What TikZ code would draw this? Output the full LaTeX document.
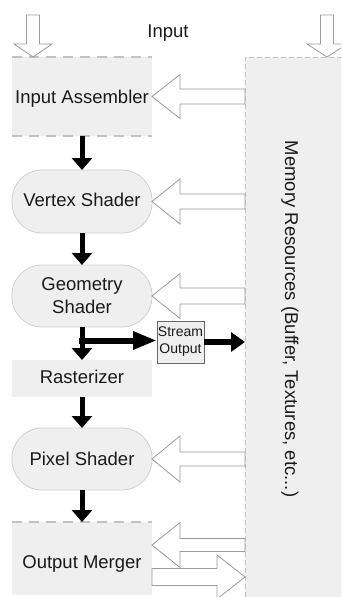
\documentclass[tikz,border=0pt]{standalone}
\usepackage{fontspec}
\setmainfont{Liberation Sans}
\usetikzlibrary{arrows.meta,calc}

\definecolor{boxfill}{HTML}{EFEFEF}
\definecolor{edgegray}{HTML}{D0D0D0}
\definecolor{dashgray}{HTML}{C2C2C2}
\definecolor{hollowgray}{HTML}{9A9A9A}
\definecolor{textcol}{HTML}{1A1A1A}

% outlined block arrow: #1 tail, #2 tip, #3 shaft half width, #4 head half width, #5 head length
\newcommand\hollowarrow[5]{%
  \draw[hollow] let \p1=(#1), \p2=(#2),
      \n1={atan2(\y2-\y1,\x2-\x1)}, \n2={veclen(\x2-\x1,\y2-\y1)} in
    [shift={(\p1)}, rotate=\n1]
    (0pt,#3) -- ({\n2*1pt-#5},#3) -- ({\n2*1pt-#5},#4) -- ({\n2*1pt},0pt)
    -- ({\n2*1pt-#5},-#4) -- ({\n2*1pt-#5},-#3) -- (0pt,-#3) -- cycle;}

\begin{document}
\begin{tikzpicture}[x=1pt,y=-1pt,
  stage/.style={fill=boxfill, minimum width=140pt, inner sep=0pt, outer sep=0pt,
    text=textcol, font=\fontsize{18.5}{23}\selectfont},
  oneline/.style={text height=13.5pt, text depth=4pt},
  pill/.style={stage, draw=edgegray, line width=0.8pt, rounded corners=30pt},
  dashline/.style={draw=dashgray, line width=1.5pt, dash pattern=on 10pt off 7pt},
  hollow/.style={draw=hollowgray, fill=white, line width=0.8pt, line join=miter},
  flow/.style={line width=5pt, draw=black, -{Triangle[width=20pt,length=12pt]}},
  streamflow/.style={line width=6pt, draw=black, -{Triangle[width=17pt,length=24pt]}},
  outflow/.style={line width=6pt, draw=black, -{Triangle[width=19pt,length=14pt]}},
]
\useasboundingbox (0,0) rectangle (341,597);
\clip (0,0) rectangle (341,597);

% memory resources column
\node[fill=boxfill, draw=dashgray, line width=0.8pt, dash pattern=on 5pt off 3pt,
      minimum width=100pt, minimum height=545pt, inner sep=0pt, outer sep=0pt] (mem) at (295,329.5) {};
\node[rotate=-90, text=textcol, font=\fontsize{18.5}{23}\selectfont] (memlabel) at (290,319)
  {Memory Resources (Buffer, Textures, etc...)};

% pipeline stages
\node[stage, oneline, minimum height=79pt, text height=17pt] (ia) at (82,96.5) {Input Assembler};
\node[pill, oneline, minimum height=63pt] (vs) at (82,201.5) {Vertex Shader};
\node[pill, minimum height=62pt, align=center] (gs) at (82,296) {Geometry\\Shader};
\node[stage, oneline, minimum height=37pt] (ras) at (82,378.5) {Rasterizer};
\node[pill, oneline, minimum height=62pt, text height=16pt] (ps) at (82,459) {Pixel Shader};
\node[stage, oneline, minimum height=73pt, text height=23pt] (om) at (82,558.5) {Output Merger};
\node[fill=boxfill, draw=black!60, line width=0.9pt, minimum width=47pt, minimum height=42pt,
      inner sep=0pt, outer sep=0pt, align=center, text=textcol,
      font=\fontsize{14}{17}\selectfont] (so) at (180.5,342) {Stream\\Output};

% dashed edges of the fixed-function blocks
\draw[dashline] (ia.north west) -- (ia.north east);
\draw[dashline] (ia.south west) -- (ia.south east);
\draw[dashline] (om.north west) -- (om.north east);

% input label and incoming arrows
\node[text=textcol, font=\fontsize{18.5}{23}\selectfont, anchor=base] (inlabel) at (168,37) {Input};
\coordinate (inleft) at (33,15);
\coordinate (inright) at (327,15);
\hollowarrow{inleft}{inleft |- ia.north}{6.5pt}{19pt}{13pt}
\hollowarrow{inright}{inright |- mem.north}{6.5pt}{20pt}{13pt}

% memory access arrows
\hollowarrow{mem.west |- ia.east}{ia.east}{7.5pt}{22pt}{28pt}
\hollowarrow{mem.west |- vs.east}{vs.east}{7.5pt}{22.5pt}{28pt}
\hollowarrow{mem.west |- gs.east}{gs.east}{8pt}{22.5pt}{28pt}
\hollowarrow{mem.west |- ps.east}{ps.east}{7pt}{23pt}{28pt}
\coordinate (omin) at ($(om.east)+(0,-13.5)$);
\coordinate (omout) at ($(om.east)+(0,18.5)$);
\hollowarrow{mem.west |- omin}{omin}{6.5pt}{22.5pt}{28pt}
\hollowarrow{omout}{omout -| mem.west}{8.5pt}{22pt}{28pt}

% data flow between stages
\draw[flow] (ia.south) -- (vs.north);
\draw[flow] (vs.south) -- (gs.north);
\draw[flow] (gs.south) -- (ras.north);
\draw[flow] (ras.south) -- (ps.north);
\draw[flow] (ps.south) -- (om.north);
\coordinate (split) at ($(gs.south |- so.west)+(-3,-1.5)$);
\draw[streamflow] (split) -- (so.west |- split);
\draw[outflow] (so.east) -- (so.east -| mem.west);
\end{tikzpicture}
\end{document}
